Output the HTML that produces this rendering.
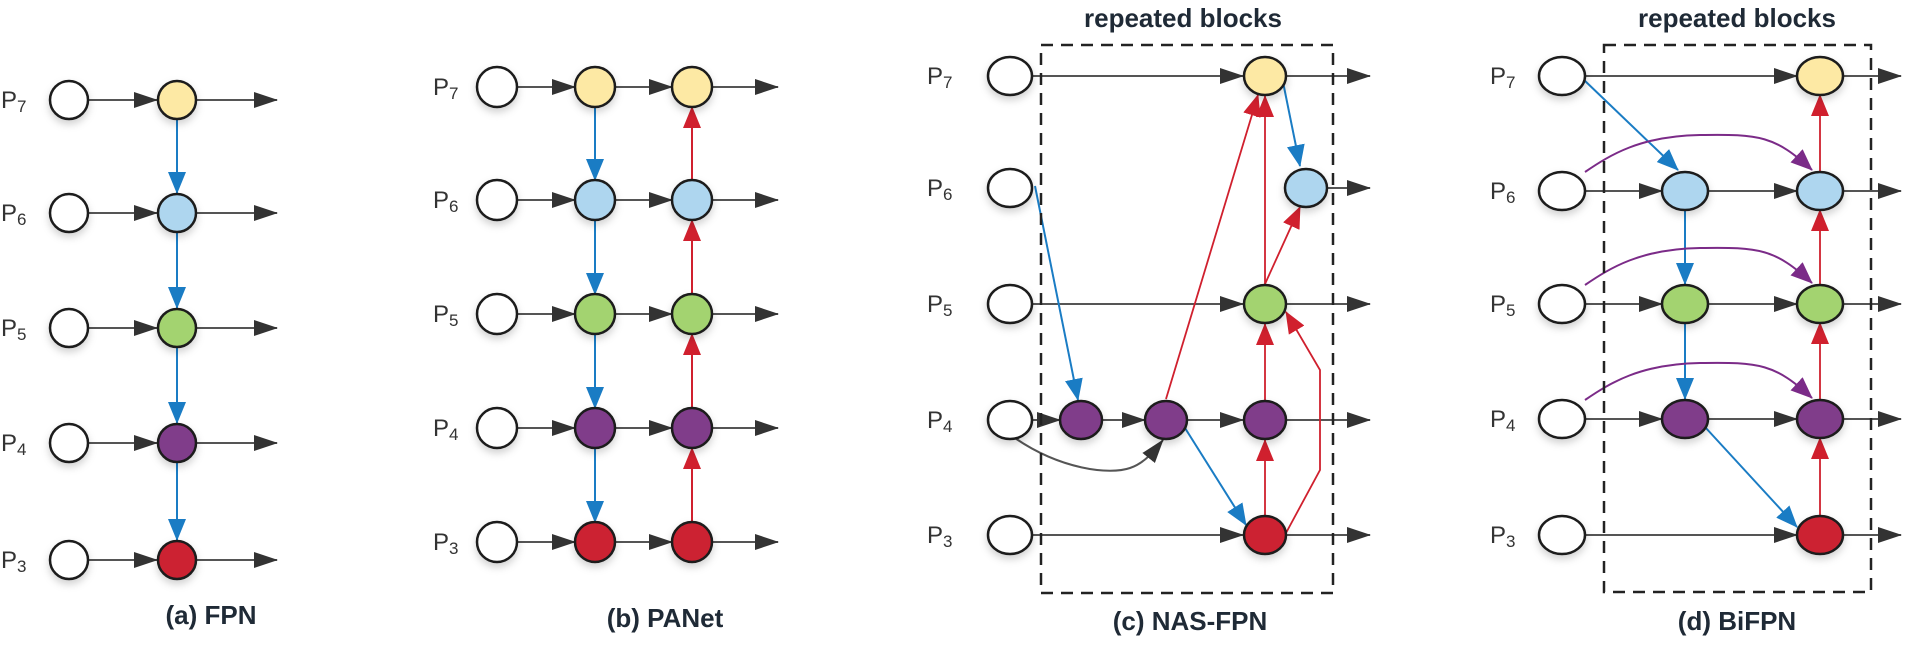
<!DOCTYPE html>
<html><head><meta charset="utf-8"><style>
html,body{margin:0;padding:0;background:#fff;}
svg{display:block;}
text{font-family:"Liberation Sans",sans-serif;}
</style></head><body>
<svg width="1905" height="647" viewBox="0 0 1905 647" xmlns="http://www.w3.org/2000/svg">
<defs>
<marker id="ak" markerUnits="userSpaceOnUse" markerWidth="24" markerHeight="16" refX="23" refY="8" orient="auto"><path d="M0,0 L24,8 L0,16 Z" fill="#333"/></marker>
<marker id="ab" markerUnits="userSpaceOnUse" markerWidth="22" markerHeight="18" refX="21" refY="9" orient="auto"><path d="M0,0 L22,9 L0,18 Z" fill="#1a7cc4"/></marker>
<marker id="ar" markerUnits="userSpaceOnUse" markerWidth="22" markerHeight="18" refX="21" refY="9" orient="auto"><path d="M0,0 L22,9 L0,18 Z" fill="#d0202e"/></marker>
<marker id="ap" markerUnits="userSpaceOnUse" markerWidth="22" markerHeight="18" refX="21" refY="9" orient="auto"><path d="M0,0 L22,9 L0,18 Z" fill="#7b2b88"/></marker>
<filter id="sh" x="-50%" y="-50%" width="200%" height="200%"><feDropShadow dx="0" dy="4" stdDeviation="4" flood-color="#000" flood-opacity="0.18"/></filter>
</defs>
<g stroke-width="2" fill="none">
<g stroke="#555" marker-end="url(#ak)">
<line x1="88" y1="100" x2="157" y2="100"/><line x1="196" y1="100" x2="277" y2="100"/>
<line x1="88" y1="213" x2="157" y2="213"/><line x1="196" y1="213" x2="277" y2="213"/>
<line x1="88" y1="328" x2="157" y2="328"/><line x1="196" y1="328" x2="277" y2="328"/>
<line x1="88" y1="443" x2="157" y2="443"/><line x1="196" y1="443" x2="277" y2="443"/>
<line x1="88" y1="560" x2="157" y2="560"/><line x1="196" y1="560" x2="277" y2="560"/>
</g>
<g stroke="#1a7cc4" marker-end="url(#ab)">
<line x1="177" y1="119" x2="177" y2="193"/><line x1="177" y1="232" x2="177" y2="308"/>
<line x1="177" y1="347" x2="177" y2="423"/><line x1="177" y1="462" x2="177" y2="540"/>
</g>
<g stroke="#555" marker-end="url(#ak)">
<line x1="517" y1="87" x2="575" y2="87"/><line x1="615" y1="87" x2="672" y2="87"/><line x1="712" y1="87" x2="778" y2="87"/>
<line x1="517" y1="200" x2="575" y2="200"/><line x1="615" y1="200" x2="672" y2="200"/><line x1="712" y1="200" x2="778" y2="200"/>
<line x1="517" y1="314" x2="575" y2="314"/><line x1="615" y1="314" x2="672" y2="314"/><line x1="712" y1="314" x2="778" y2="314"/>
<line x1="517" y1="428" x2="575" y2="428"/><line x1="615" y1="428" x2="672" y2="428"/><line x1="712" y1="428" x2="778" y2="428"/>
<line x1="517" y1="542" x2="575" y2="542"/><line x1="615" y1="542" x2="672" y2="542"/><line x1="712" y1="542" x2="778" y2="542"/>
</g>
<g stroke="#1a7cc4" marker-end="url(#ab)">
<line x1="595" y1="107" x2="595" y2="180"/><line x1="595" y1="220" x2="595" y2="294"/>
<line x1="595" y1="334" x2="595" y2="408"/><line x1="595" y1="448" x2="595" y2="522"/>
</g>
<g stroke="#d0202e" marker-end="url(#ar)">
<line x1="692" y1="522" x2="692" y2="448"/><line x1="692" y1="408" x2="692" y2="334"/>
<line x1="692" y1="294" x2="692" y2="220"/><line x1="692" y1="180" x2="692" y2="107"/>
</g>
<g stroke="#555" marker-end="url(#ak)">
<line x1="1030" y1="76" x2="1243" y2="76"/><line x1="1285" y1="76" x2="1370" y2="76"/>
<line x1="1327" y1="188" x2="1370" y2="188"/>
<line x1="1030" y1="304" x2="1243" y2="304"/><line x1="1285" y1="304" x2="1370" y2="304"/>
<line x1="1030" y1="420" x2="1060" y2="420"/><line x1="1102" y1="420" x2="1145" y2="420"/><line x1="1187" y1="420" x2="1243" y2="420"/><line x1="1285" y1="420" x2="1370" y2="420"/>
<line x1="1030" y1="535" x2="1243" y2="535"/><line x1="1285" y1="535" x2="1370" y2="535"/>
<path d="M1012,436 C1060,470 1110,475 1130,468 C1145,463 1155,450 1163,440"/>
</g>
<g stroke="#1a7cc4" marker-end="url(#ab)">
<line x1="1283" y1="82" x2="1300" y2="166"/>
<line x1="1035" y1="186" x2="1078" y2="400"/>
<line x1="1185" y1="428" x2="1246" y2="525"/>
</g>
<g stroke="#d0202e" marker-end="url(#ar)" stroke-width="1.8">
<line x1="1166" y1="399" x2="1258" y2="95"/>
<line x1="1265" y1="515" x2="1265" y2="440"/>
<line x1="1265" y1="400" x2="1265" y2="324"/>
<line x1="1265" y1="284" x2="1265" y2="96"/>
<line x1="1265" y1="284" x2="1300" y2="207"/>
<path d="M1286,533 L1320,470 L1320,370 L1286,312"/>
</g>
<g stroke="#555" marker-end="url(#ak)">
<line x1="1585" y1="76" x2="1797" y2="76"/><line x1="1843" y1="76" x2="1901" y2="76"/>
<line x1="1585" y1="191" x2="1662" y2="191"/><line x1="1708" y1="191" x2="1797" y2="191"/><line x1="1843" y1="191" x2="1901" y2="191"/>
<line x1="1585" y1="304" x2="1662" y2="304"/><line x1="1708" y1="304" x2="1797" y2="304"/><line x1="1843" y1="304" x2="1901" y2="304"/>
<line x1="1585" y1="419" x2="1662" y2="419"/><line x1="1708" y1="419" x2="1797" y2="419"/><line x1="1843" y1="419" x2="1901" y2="419"/>
<line x1="1585" y1="535" x2="1797" y2="535"/><line x1="1843" y1="535" x2="1901" y2="535"/>
</g>
<g stroke="#1a7cc4" marker-end="url(#ab)">
<line x1="1583" y1="79" x2="1678" y2="170"/>
<line x1="1685" y1="210" x2="1685" y2="284"/>
<line x1="1685" y1="323" x2="1685" y2="399"/>
<line x1="1705" y1="427" x2="1797" y2="527"/>
</g>
<g stroke="#7b2b88" marker-end="url(#ap)">
<path d="M1585,172 C1610,155 1640,136 1700,135 C1760,134 1775,136 1812,170"/>
<path d="M1585,285 C1610,268 1640,249 1700,248 C1760,247 1775,249 1812,283"/>
<path d="M1585,400 C1610,383 1640,364 1700,363 C1760,362 1775,364 1812,398"/>
</g>
<g stroke="#d0202e" marker-end="url(#ar)" stroke-width="1.8">
<line x1="1820" y1="516" x2="1820" y2="438"/><line x1="1820" y1="400" x2="1820" y2="323"/>
<line x1="1820" y1="285" x2="1820" y2="210"/><line x1="1820" y1="172" x2="1820" y2="95"/>
</g>
<rect x="1041" y="45" width="292" height="548" stroke="#222" stroke-width="2.5" stroke-dasharray="12,8"/>
<rect x="1604" y="45" width="267" height="547" stroke="#222" stroke-width="2.5" stroke-dasharray="12,8"/>
</g>
<g stroke="#1a1a1a" stroke-width="2.5" filter="url(#sh)">
<circle cx="69" cy="100" r="19" fill="#fff"/><circle cx="69" cy="213" r="19" fill="#fff"/><circle cx="69" cy="328" r="19" fill="#fff"/><circle cx="69" cy="443" r="19" fill="#fff"/><circle cx="69" cy="560" r="19" fill="#fff"/>
<circle cx="177" cy="100" r="19" fill="#fde9a4"/><circle cx="177" cy="213" r="19" fill="#aed6ef"/><circle cx="177" cy="328" r="19" fill="#a3d36f"/><circle cx="177" cy="443" r="19" fill="#803d8a"/><circle cx="177" cy="560" r="19" fill="#cc2231"/>
<circle cx="497" cy="87" r="20" fill="#fff"/><circle cx="497" cy="200" r="20" fill="#fff"/><circle cx="497" cy="314" r="20" fill="#fff"/><circle cx="497" cy="428" r="20" fill="#fff"/><circle cx="497" cy="542" r="20" fill="#fff"/>
<circle cx="595" cy="87" r="20" fill="#fde9a4"/><circle cx="595" cy="200" r="20" fill="#aed6ef"/><circle cx="595" cy="314" r="20" fill="#a3d36f"/><circle cx="595" cy="428" r="20" fill="#803d8a"/><circle cx="595" cy="542" r="20" fill="#cc2231"/>
<circle cx="692" cy="87" r="20" fill="#fde9a4"/><circle cx="692" cy="200" r="20" fill="#aed6ef"/><circle cx="692" cy="314" r="20" fill="#a3d36f"/><circle cx="692" cy="428" r="20" fill="#803d8a"/><circle cx="692" cy="542" r="20" fill="#cc2231"/>
<ellipse cx="1010" cy="76" rx="22" ry="19" fill="#fff"/><ellipse cx="1010" cy="188" rx="22" ry="19" fill="#fff"/><ellipse cx="1010" cy="304" rx="22" ry="19" fill="#fff"/><ellipse cx="1010" cy="420" rx="22" ry="19" fill="#fff"/><ellipse cx="1010" cy="535" rx="22" ry="19" fill="#fff"/>
<ellipse cx="1265" cy="76" rx="21" ry="19" fill="#fde9a4"/><ellipse cx="1306" cy="188" rx="21" ry="19" fill="#aed6ef"/><ellipse cx="1265" cy="304" rx="21" ry="19" fill="#a3d36f"/>
<ellipse cx="1081" cy="420" rx="21" ry="19" fill="#803d8a"/><ellipse cx="1166" cy="420" rx="21" ry="19" fill="#803d8a"/><ellipse cx="1265" cy="420" rx="21" ry="19" fill="#803d8a"/><ellipse cx="1265" cy="535" rx="21" ry="19" fill="#cc2231"/>
<ellipse cx="1562" cy="76" rx="23" ry="19" fill="#fff"/><ellipse cx="1562" cy="191" rx="23" ry="19" fill="#fff"/><ellipse cx="1562" cy="304" rx="23" ry="19" fill="#fff"/><ellipse cx="1562" cy="419" rx="23" ry="19" fill="#fff"/><ellipse cx="1562" cy="535" rx="23" ry="19" fill="#fff"/>
<ellipse cx="1685" cy="191" rx="23" ry="19" fill="#aed6ef"/><ellipse cx="1685" cy="304" rx="23" ry="19" fill="#a3d36f"/><ellipse cx="1685" cy="419" rx="23" ry="19" fill="#803d8a"/>
<ellipse cx="1820" cy="76" rx="23" ry="19" fill="#fde9a4"/><ellipse cx="1820" cy="191" rx="23" ry="19" fill="#aed6ef"/><ellipse cx="1820" cy="304" rx="23" ry="19" fill="#a3d36f"/><ellipse cx="1820" cy="419" rx="23" ry="19" fill="#803d8a"/><ellipse cx="1820" cy="535" rx="23" ry="19" fill="#cc2231"/>
</g>
<g font-size="24" fill="#333">
<text x="1" y="108">P<tspan font-size="17" dy="4">7</tspan></text>
<text x="1" y="221">P<tspan font-size="17" dy="4">6</tspan></text>
<text x="1" y="336">P<tspan font-size="17" dy="4">5</tspan></text>
<text x="1" y="451">P<tspan font-size="17" dy="4">4</tspan></text>
<text x="1" y="568">P<tspan font-size="17" dy="4">3</tspan></text>
<text x="433" y="95">P<tspan font-size="17" dy="4">7</tspan></text>
<text x="433" y="208">P<tspan font-size="17" dy="4">6</tspan></text>
<text x="433" y="322">P<tspan font-size="17" dy="4">5</tspan></text>
<text x="433" y="436">P<tspan font-size="17" dy="4">4</tspan></text>
<text x="433" y="550">P<tspan font-size="17" dy="4">3</tspan></text>
<text x="927" y="84">P<tspan font-size="17" dy="4">7</tspan></text>
<text x="927" y="196">P<tspan font-size="17" dy="4">6</tspan></text>
<text x="927" y="312">P<tspan font-size="17" dy="4">5</tspan></text>
<text x="927" y="428">P<tspan font-size="17" dy="4">4</tspan></text>
<text x="927" y="543">P<tspan font-size="17" dy="4">3</tspan></text>
<text x="1490" y="84">P<tspan font-size="17" dy="4">7</tspan></text>
<text x="1490" y="199">P<tspan font-size="17" dy="4">6</tspan></text>
<text x="1490" y="312">P<tspan font-size="17" dy="4">5</tspan></text>
<text x="1490" y="427">P<tspan font-size="17" dy="4">4</tspan></text>
<text x="1490" y="543">P<tspan font-size="17" dy="4">3</tspan></text>
</g>
<g font-size="26" font-weight="bold" fill="#1f2a36" text-anchor="middle">
<text x="211" y="624">(a) FPN</text>
<text x="665" y="627">(b) PANet</text>
<text x="1190" y="630">(c) NAS-FPN</text>
<text x="1737" y="630">(d) BiFPN</text>
<text x="1183" y="27">repeated blocks</text>
<text x="1737" y="27">repeated blocks</text>
</g>
</svg>
</body></html>
